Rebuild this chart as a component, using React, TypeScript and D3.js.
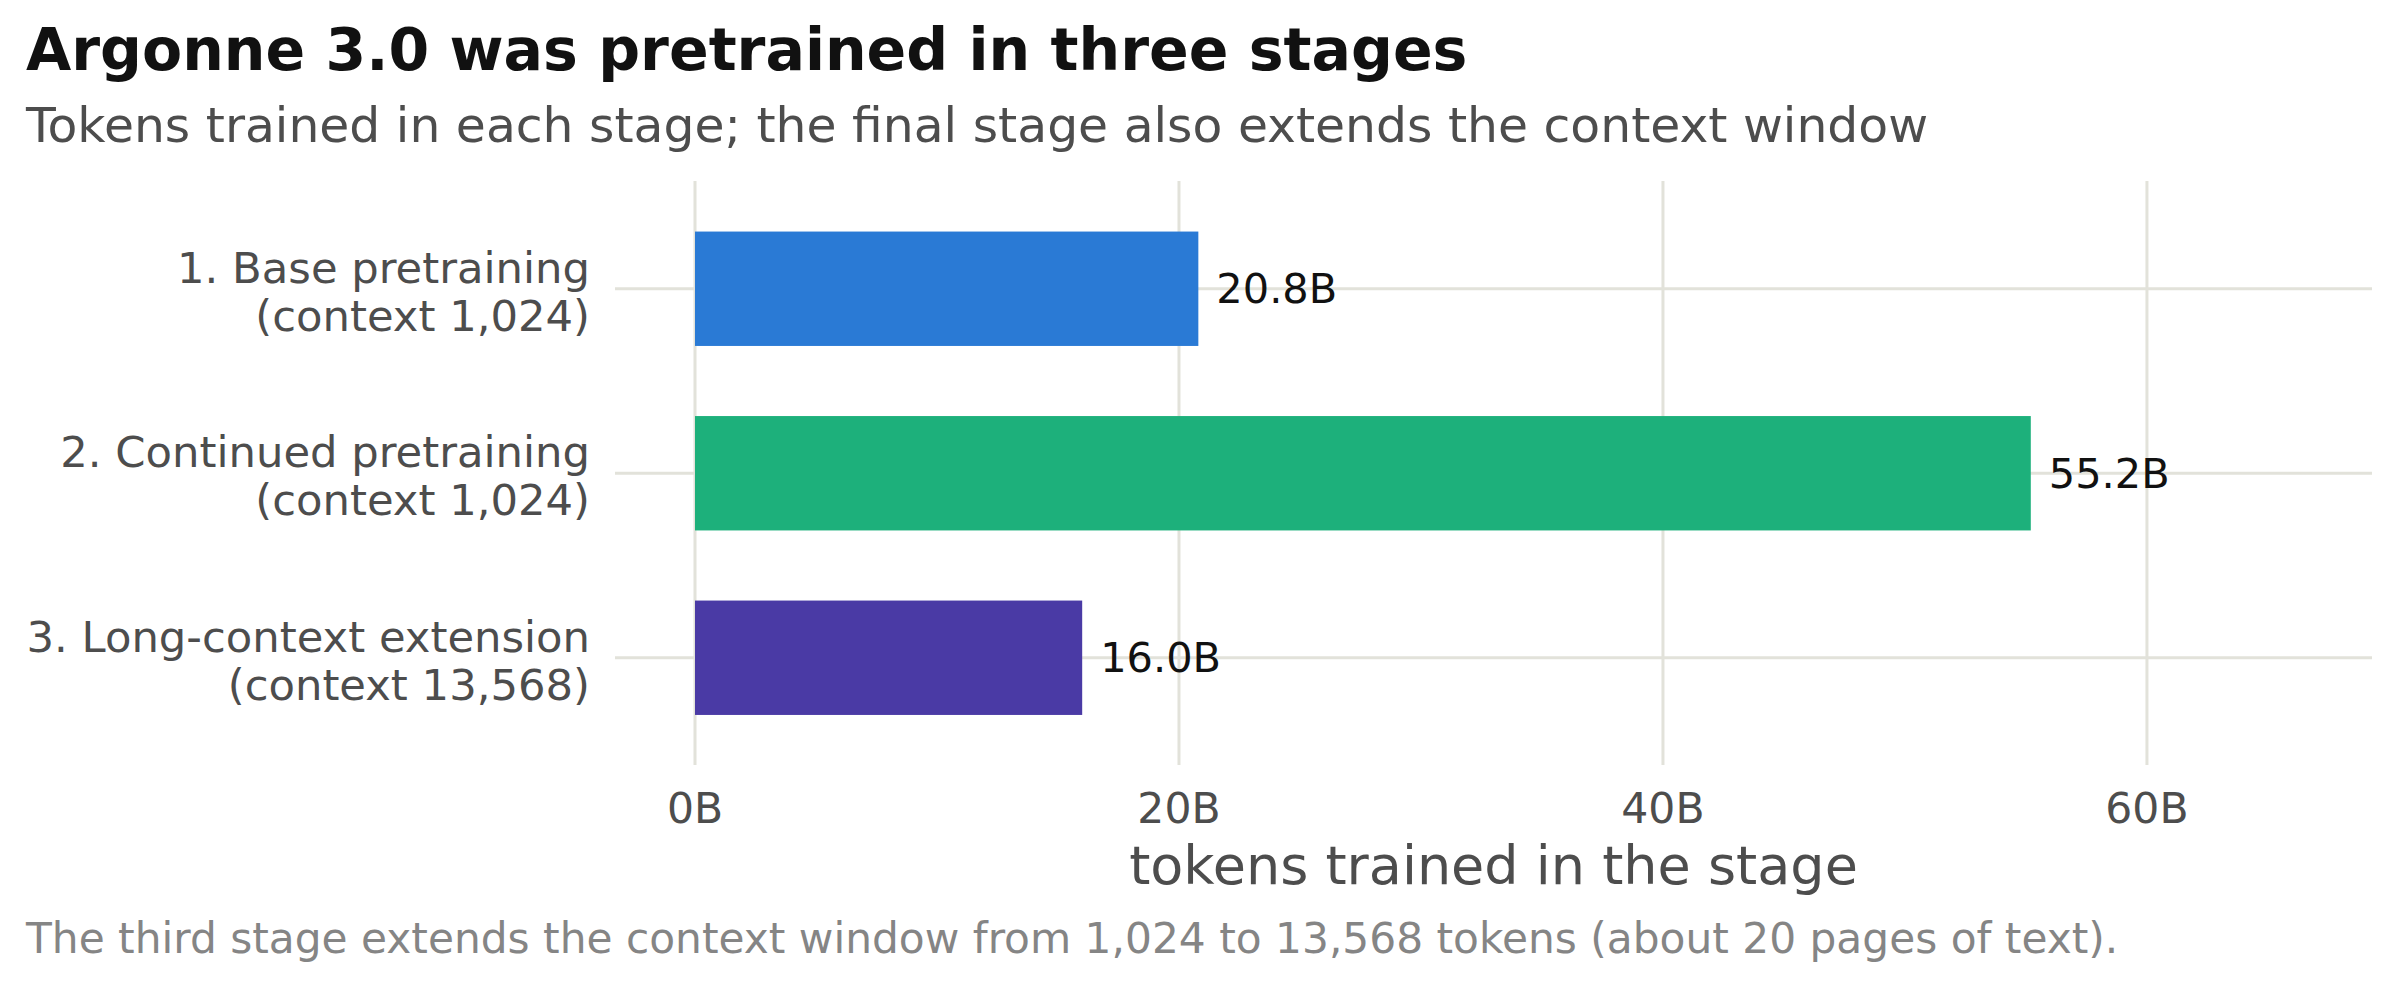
import React from "react";
import * as d3 from "d3";

const categories = ["1. Base pretraining", "2. Continued pretraining", "3. Long-context extension"];
const contexts = ["(context 1,024)", "(context 1,024)", "(context 13,568)"];
const tokens = [20.8, 55.2, 16.0];
const colors = ["#2a7ad5", "#1db07b", "#4a3aa5"];
const xTicks = [0, 20, 40, 60];

const W = 2400;
const H = 990;
const FONT = "'DejaVu Sans', sans-serif";

export default function App() {
  const x = d3.scaleLinear().domain([0, 69.3]).range([695, 2372]);
  const y = d3.scaleBand<string>().domain(categories).range([196.5, 750]).paddingInner(0.38).paddingOuter(0.19);
  const panelLeft = 615;
  const panelRight = 2372;
  const panelTop = 181;
  const panelBottom = 765;
  const grid = "#e2e2da";

  return (
    <svg width={W} height={H} style={{ position: "absolute", left: 0, top: 0, background: "#fff" }} fontFamily={FONT}>
      <rect x={0} y={0} width={W} height={H} fill="#fff" />
      <text x={26} y={70} fontSize={58.5} fontWeight="bold" fill="#111">Argonne 3.0 was pretrained in three stages</text>
      <text x={26} y={142} fontSize={48.8} fill="#4d4d4d">Tokens trained in each stage; the final stage also extends the context window</text>

      {xTicks.map((t) => (
        <line key={"v" + t} x1={x(t)} x2={x(t)} y1={panelTop} y2={panelBottom} stroke={grid} strokeWidth={3} />
      ))}
      {categories.map((c) => {
        const cy = (y(c) as number) + y.bandwidth() / 2;
        return <line key={"h" + c} x1={panelLeft} x2={panelRight} y1={cy} y2={cy} stroke={grid} strokeWidth={3} />;
      })}

      {categories.map((c, i) => (
        <rect key={"b" + c} x={x(0)} y={y(c) as number} width={x(tokens[i]) - x(0)} height={y.bandwidth()} fill={colors[i]} />
      ))}

      {categories.map((c, i) => {
        const cy = (y(c) as number) + y.bandwidth() / 2;
        return (
          <text key={"l" + c} x={x(tokens[i]) + 18} y={cy} dominantBaseline="central" fontSize={41.5} fill="#111">
            {tokens[i].toFixed(1) + "B"}
          </text>
        );
      })}

      {categories.map((c, i) => {
        const cy = (y(c) as number) + y.bandwidth() / 2;
        return (
          <text key={"c" + c} x={590} textAnchor="end" fontSize={43.3} fill="#4d4d4d">
            <tspan x={590} y={cy - 6}>{c}</tspan>
            <tspan x={590} y={cy + 42}>{contexts[i]}</tspan>
          </text>
        );
      })}

      {xTicks.map((t) => (
        <text key={"t" + t} x={x(t)} y={823} textAnchor="middle" fontSize={42.5} fill="#4d4d4d">
          {t + "B"}
        </text>
      ))}

      <text x={(panelLeft + panelRight) / 2} y={884} textAnchor="middle" fontSize={54} fill="#4d4d4d">
        tokens trained in the stage
      </text>

      <text x={26} y={953} fontSize={42.3} fill="#858585">
        The third stage extends the context window from 1,024 to 13,568 tokens (about 20 pages of text).
      </text>
    </svg>
  );
}
